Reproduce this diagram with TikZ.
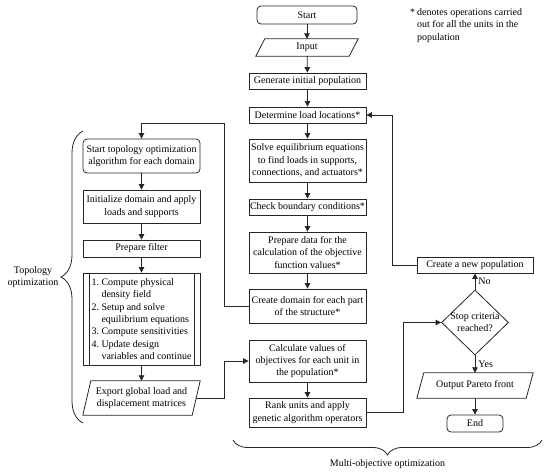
\documentclass[tikz,border=0pt]{standalone}
\usepackage{fontspec}
\setmainfont{Liberation Serif}
\usetikzlibrary{shapes.geometric,arrows.meta,decorations.pathreplacing}
\newcommand{\paraoutline}[2]{%
  \draw[line] ([xshift=#2]#1.north west) -- ([xshift=#2]#1.north east) --
    ([xshift=-#2]#1.south east) -- ([xshift=-#2]#1.south west) -- cycle;}
\begin{document}
\begin{tikzpicture}[x=1pt,y=-1pt,
  line/.style={draw=black!85, line width=0.8pt},
  arr/.style={line, -{Triangle[length=5.5pt,width=5.5pt]}},
  txtfont/.style={font=\fontsize{10}{12.3}\selectfont},
  box/.style={line, rectangle, align=center, txtfont, inner xsep=1pt, inner ysep=1pt, minimum width=117pt},
  rbox/.style={box, rounded corners=4pt},
  pbody/.style={rectangle, align=center, txtfont, inner xsep=1pt, inner ysep=1pt},
  dia/.style={line, diamond, aspect=1, inner sep=0pt, align=center, txtfont, minimum width=67pt, minimum height=65pt},
  lbl/.style={txtfont, inner sep=1pt}
]
\useasboundingbox (0,0) rectangle (550,474);

% middle column
\node[rbox, minimum width=100pt, minimum height=18pt] (start) at (307,15) {Start};
\node[pbody, minimum width=93pt, minimum height=17pt] (input) at (307,47.5) {Input};
\paraoutline{input}{4.5pt}
\node[box, minimum height=16pt] (gen) at (307.5,81) {Generate initial population};
\node[box, minimum height=16pt] (det) at (307.5,115) {Determine load locations*};
\node[box, minimum height=43pt] (solve) at (307.5,160.5) {Solve equilibrium equations\\to find loads in supports,\\connections, and actuators*};
\node[box, minimum height=16pt] (check) at (307.5,207) {Check boundary conditions*};
\node[box, minimum height=41pt] (prep) at (307.5,252.5) {Prepare data for the\\calculation of the objective\\function values*};
\node[box, minimum height=34pt] (cdom) at (307.5,306) {Create domain for each part\\of the structure*};
\node[box, minimum height=42pt] (calc) at (307.5,361) {Calculate values of\\objectives for each unit in\\the population*};
\node[box, minimum height=29pt] (rank) at (307.5,412.5) {Rank units and apply\\genetic algorithm operators};

% left column
\node[rbox, minimum height=34pt] (sto) at (141.5,156) {Start topology optimization\\algorithm for each domain};
\node[box, minimum height=33pt] (init) at (141.5,206.5) {Initialize domain and apply\\loads and supports};
\node[box, minimum height=17pt] (filt) at (141.5,248.5) {Prepare filter};
\node[box, align=left, minimum height=92pt] (proc) at (141.5,319) {%
\makebox[10pt][l]{1.}Compute physical\\
\hspace*{10pt}density field\\
\makebox[10pt][l]{2.}Setup and solve\\
\hspace*{10pt}equilibrium equations\\
\makebox[10pt][l]{3.}Compute sensitivities\\
\makebox[10pt][l]{4.}Update design\\
\hspace*{10pt}variables and continue};
\draw[line] ([xshift=6.5pt]proc.north west) -- ([xshift=6.5pt]proc.south west);
\draw[line] ([xshift=-6.5pt]proc.north east) -- ([xshift=-6.5pt]proc.south east);
\node[pbody, minimum width=109pt, minimum height=34pt] (exp) at (141.5,398) {Export global load and\\displacement matrices};
\paraoutline{exp}{4pt}

% right column
\node[box, minimum width=116pt, minimum height=16pt] (newp) at (475,265) {Create a new population};
\node[dia] (stop) at (475,322.5) {\makebox[0pt]{Stop criteria}\\\makebox[0pt]{reached?}};
\node[pbody, minimum width=109pt, minimum height=25pt] (pareto) at (475,385.5) {Output Pareto front};
\paraoutline{pareto}{3.5pt}
\node[rbox, minimum width=56pt, minimum height=17pt] (end) at (475,423.5) {End};

% note
\node[lbl, anchor=north west, align=left, inner sep=0pt] (note) at (410,8.5) {\makebox[7pt][l]{*}denotes operations carried\\\hspace*{7pt}out for all the units in the\\\hspace*{7pt}population};

% helper coordinates
\coordinate (c1) at (224,123);
\coordinate (c2) at (224,361);
\coordinate (c3) at (403,322.5);
\coordinate (c4) at (392,115);

% connectors middle
\draw[arr] (start) -- (input);
\draw[arr] (input) -- (gen);
\draw[arr] (gen) -- (det);
\draw[arr] (det) -- (solve);
\draw[arr] (solve) -- (check);
\draw[arr] (check) -- (prep);
\draw[arr] (prep) -- (cdom);
\draw[arr] (calc) -- (rank);
% left
\draw[arr] (cdom.west) -| (c1) -| (sto.north);
\draw[arr] (sto) -- (init);
\draw[arr] (init) -- (filt);
\draw[arr] (filt) -- (proc);
\draw[arr] (proc) -- (exp);
\draw[arr] (exp.east) -| (c2) -- (calc.west);
% right
\draw[arr] (rank.east) -| (c3) -- (stop.west);
\draw[arr] (stop.north) -- (newp.south) node[lbl, midway, right, xshift=2pt] (no) {No};
\draw[arr] (newp.west) -| (c4) -- (det.east);
\draw[arr] (stop.south) -- (pareto.north) node[lbl, midway, right, xshift=2pt] (yes) {Yes};
\draw[arr] (pareto) -- (end);

% braces
\draw[line, decorate, decoration={brace, amplitude=22pt}] (83,423) -- (83,131);
\node[lbl, align=center] (topo) at (33,277) {Topology\\optimization};
\draw[line, decorate, decoration={brace, amplitude=15pt}] (542,440) -- (233,440);
\node[lbl] (multi) at (387.5,464) {Multi-objective optimization};
\end{tikzpicture}
\end{document}
